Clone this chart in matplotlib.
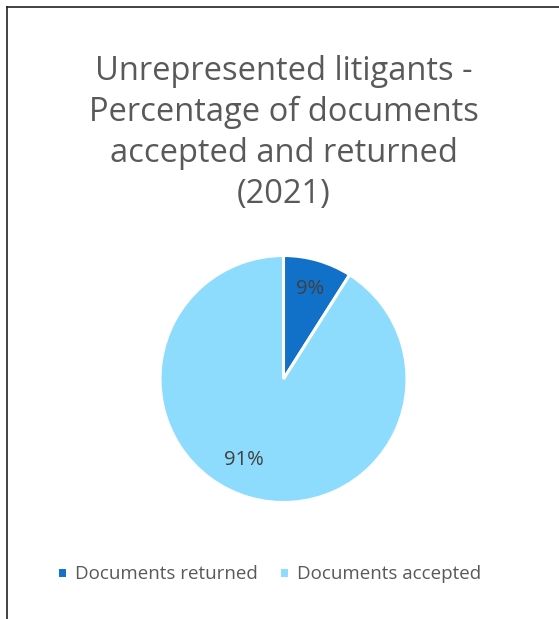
import matplotlib
matplotlib.use("Agg")
import numpy as np
import matplotlib.pyplot as plt

categories = ["Documents returned", "Documents accepted"]
values = [9, 91]
colors = ["#1170C8", "#8EDCFD"]
title = "Unrepresented litigants -\nPercentage of documents\naccepted and returned\n(2021)"

W, H = 559, 619
fig = plt.figure(figsize=(W/100, H/100), dpi=100)
fig.patch.set_facecolor("white")

# frame lines
fig.add_artist(plt.Line2D([6.5/W, 6.5/W], [0, 1-7/H], color="#222222", lw=1.2))
fig.add_artist(plt.Line2D([6.5/W, 1], [1-7/H, 1-7/H], color="#222222", lw=1.2))

font = "Open Sans"
fig.text(284/W, 1-133/H, title, ha="center", va="center", fontsize=23.5,
         color="#595959", family=font, linespacing=1.31)

r = 123.5
cx, cy = 283.5, 379
ax = fig.add_axes([(cx-r)/W, 1-(cy+r)/H, 2*r/W, 2*r/H])
wedges, texts, autotexts = ax.pie(values, colors=colors, startangle=90, counterclock=False,
       autopct=lambda p: f"{p:.0f}%", pctdistance=0.76,
       wedgeprops=dict(edgecolor="white", linewidth=2.2),
       textprops=dict(fontsize=14.5, color="#404040", family=font))
# nudge the large-slice label like the reference
total = sum(values)
start = 90 - 360 * values[0] / total
mid = start - 360 * values[1] / total / 2 - 10
autotexts[1].set_position((0.735 * np.cos(np.radians(mid)), 0.735 * np.sin(np.radians(mid))))
ax.set_aspect("equal")
ax.set_xlim(-1, 1); ax.set_ylim(-1, 1)

leg = fig.legend(wedges, categories, loc="center", bbox_to_anchor=(269/W, 1-574/H),
                 ncol=2, frameon=False, handlelength=0.55, handleheight=0.55,
                 handletextpad=0.45, columnspacing=1.1,
                 prop=dict(family=font, size=13.5))
for t in leg.get_texts():
    t.set_color("#595959")

fig.savefig("out.png", dpi=100)
